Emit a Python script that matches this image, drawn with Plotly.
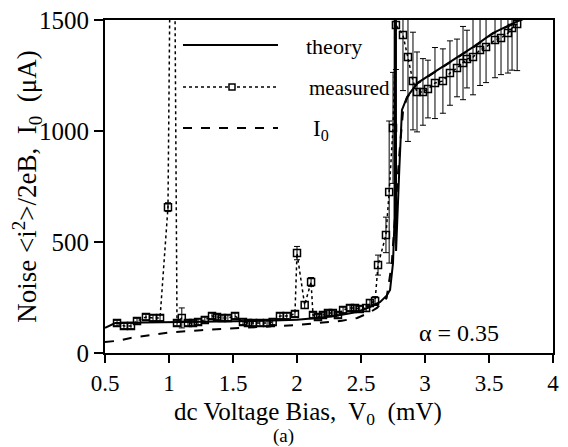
import plotly.graph_objects as go

# ---- data ----
meas_v = [0.594, 0.648, 0.703, 0.75, 0.82, 0.875, 0.93, 0.992, 1.03, 1.0625, 1.10, 1.148, 1.1875, 1.227,
          1.28, 1.336, 1.375, 1.414, 1.46, 1.516, 1.578, 1.617, 1.656, 1.71, 1.766, 1.81, 1.867, 1.92,
          1.984, 2.0, 2.06, 2.11, 2.125, 2.164, 2.203, 2.242, 2.28, 2.32, 2.36, 2.414, 2.453, 2.49,
          2.54, 2.57, 2.61, 2.633, 2.695, 2.72, 2.75, 2.773, 2.828, 2.867, 2.906, 2.9375, 2.984,
          3.023, 3.078, 3.14, 3.195, 3.25, 3.297, 3.328, 3.375, 3.43, 3.477, 3.547, 3.594, 3.648,
          3.68, 3.72]
meas_n = [135, 122, 122, 144, 162, 158, 158, 657, 3100, 135, 158, 135, 135, 140,
          149, 167, 162, 158, 158, 167, 140, 135, 135, 135, 135, 140, 167, 167,
          176, 450, 216, 320, 171, 162, 171, 180, 180, 171, 194, 203, 203, 198,
          203, 225, 234, 396, 532, 725, 1014, 1477, 1432, 1333, 1225, 1176, 1176,
          1189, 1216, 1225, 1261, 1284, 1306, 1324, 1333, 1365, 1378, 1410, 1419, 1441,
          1464, 1482]
meas_err = [12, 12, 12, 12, 12, 12, 12, 20, 0, 12, 45, 12, 12, 12,
            12, 12, 12, 12, 12, 12, 12, 12, 12, 12, 12, 12, 12, 12,
            12, 30, 15, 20, 12, 12, 12, 12, 12, 12, 12, 12, 12, 12,
            15, 15, 20, 45, 80, 320, 250, 200, 250, 380, 220, 180, 150,
            130, 160, 145, 145, 130, 165, 130, 170, 160, 160, 170, 165, 180,
            190, 210]

theory_v = [0.5, 0.58, 0.8, 1.0, 1.25, 1.5, 1.75, 2.0, 2.2, 2.35, 2.47, 2.56, 2.65, 2.70, 2.727,
            2.75, 2.762, 2.768, 2.774, 2.80, 2.82, 2.86, 2.94, 3.06, 3.22, 3.375, 3.53, 3.69, 3.78]
theory_n = [113, 135, 137, 138, 140, 142, 145, 150, 160, 172, 185, 205, 230, 258, 284,
            405, 600, 5000, 460, 838, 1095, 1153, 1216, 1261, 1320, 1378, 1441, 1486, 1510]

i0_v = [0.5, 0.6, 0.7, 0.85, 1.0, 1.25, 1.5, 1.8, 2.0, 2.2, 2.35, 2.47, 2.56, 2.625, 2.70,
        2.74, 2.77, 2.80, 2.83, 2.86, 2.94, 3.06, 3.22, 3.375, 3.53, 3.69, 3.78]
i0_n = [50, 55, 68, 80, 92, 103, 112, 120, 126, 135, 145, 158, 180, 203, 248,
        400, 650, 900, 1100, 1150, 1214, 1259, 1318, 1376, 1439, 1484, 1508]

x_ticks = [0.5, 1, 1.5, 2, 2.5, 3, 3.5, 4]
x_ticktext = ["0.5", "1", "1.5", "2", "2.5", "3", "3.5", "4"]
y_ticks = [0, 500, 1000, 1500]
y_ticktext = ["0", "500", "1000", "1500"]

FONT = "Liberation Serif, Times New Roman, serif"

fig = go.Figure()
fig.add_trace(go.Scatter(x=i0_v, y=i0_n, mode="lines",
                         line=dict(color="black", width=2, dash="dash"), name="I0"))
fig.add_trace(go.Scatter(x=theory_v, y=theory_n, mode="lines",
                         line=dict(color="black", width=2), name="theory"))
fig.add_trace(go.Scatter(x=meas_v, y=meas_n, mode="lines+markers",
                         line=dict(color="black", width=1.5, dash="dot"),
                         marker=dict(symbol="square-open", size=7, color="black",
                                     line=dict(width=1.5, color="black")),
                         error_y=dict(type="data", array=meas_err, color="black",
                                      thickness=1, width=3),
                         cliponaxis=True, name="measured"))

# ---- legend drawn in paper coordinates (screen pixel helpers) ----
L, W, T, H = 105, 448, 20, 333
def px(x):
    return (x - L) / W
def py(y):
    return (T + H - y) / H

shapes = [
    dict(type="line", xref="paper", yref="paper", x0=px(183), x1=px(278), y0=py(45), y1=py(45),
         line=dict(color="black", width=2)),
    dict(type="line", xref="paper", yref="paper", x0=px(183), x1=px(278), y0=py(87), y1=py(87),
         line=dict(color="black", width=1.5, dash="dot")),
    dict(type="rect", xref="paper", yref="paper", x0=px(229), x1=px(235), y0=py(90), y1=py(84),
         line=dict(color="black", width=1.5), fillcolor="white"),
    dict(type="line", xref="paper", yref="paper", x0=px(183), x1=px(278), y0=py(128), y1=py(128),
         line=dict(color="black", width=2, dash="dash")),
]
annotations = [
    dict(text="theory", xref="paper", yref="paper", x=px(304), y=py(46), xanchor="left",
         yanchor="middle", showarrow=False, font=dict(family=FONT, size=22, color="black")),
    dict(text="measured", xref="paper", yref="paper", x=px(307), y=py(88), xanchor="left",
         yanchor="middle", showarrow=False, font=dict(family=FONT, size=21, color="black")),
    dict(text="I<sub>0</sub>", xref="paper", yref="paper", x=px(311), y=py(130), xanchor="left",
         yanchor="middle", showarrow=False, font=dict(family=FONT, size=23, color="black")),
    dict(text="α = 0.35", xref="paper", yref="paper", x=px(459), y=py(333), xanchor="center",
         yanchor="middle", showarrow=False, font=dict(family=FONT, size=24, color="black")),
    dict(text="dc Voltage Bias,  V<sub>0</sub>  (mV)", xref="paper", yref="paper",
         x=px(308), y=py(413), xanchor="center", yanchor="middle", showarrow=False,
         font=dict(family=FONT, size=25, color="black")),
    dict(text="(a)", xref="paper", yref="paper", x=px(283), y=py(436), xanchor="center",
         yanchor="middle", showarrow=False, font=dict(family=FONT, size=19, color="black")),
]

# the page renders with an 8px body margin, so the figure margins are offset by 8px
fig.update_layout(
    width=568, height=447,
    margin=dict(l=97, r=23, t=12, b=102, autoexpand=False),
    paper_bgcolor="white", plot_bgcolor="white",
    showlegend=False,
    font=dict(family=FONT, color="black"),
    shapes=shapes, annotations=annotations,
    xaxis=dict(range=[0.5, 4], tickvals=x_ticks, ticktext=x_ticktext, automargin=False,
               ticks="outside", ticklen=8, tickwidth=2, tickcolor="black",
               showline=True, linewidth=2, linecolor="black", mirror=True,
               showgrid=False, zeroline=False, ticklabeloverflow="allow",
               tickfont=dict(family=FONT, size=23, color="black")),
    yaxis=dict(range=[0, 1500], tickvals=y_ticks, ticktext=y_ticktext, automargin=False,
               ticks="outside", ticklen=9, tickwidth=2, tickcolor="black",
               showline=True, linewidth=2, linecolor="black", mirror=True,
               showgrid=False, zeroline=False, ticklabeloverflow="allow",
               tickfont=dict(family=FONT, size=25, color="black"),
               title=dict(text="Noise <i<sup>2</sup>>/2eB,  I<sub>0</sub>  (μA)", standoff=2,
                          font=dict(family=FONT, size=27, color="black"))),
)

fig.write_html("out.html")
